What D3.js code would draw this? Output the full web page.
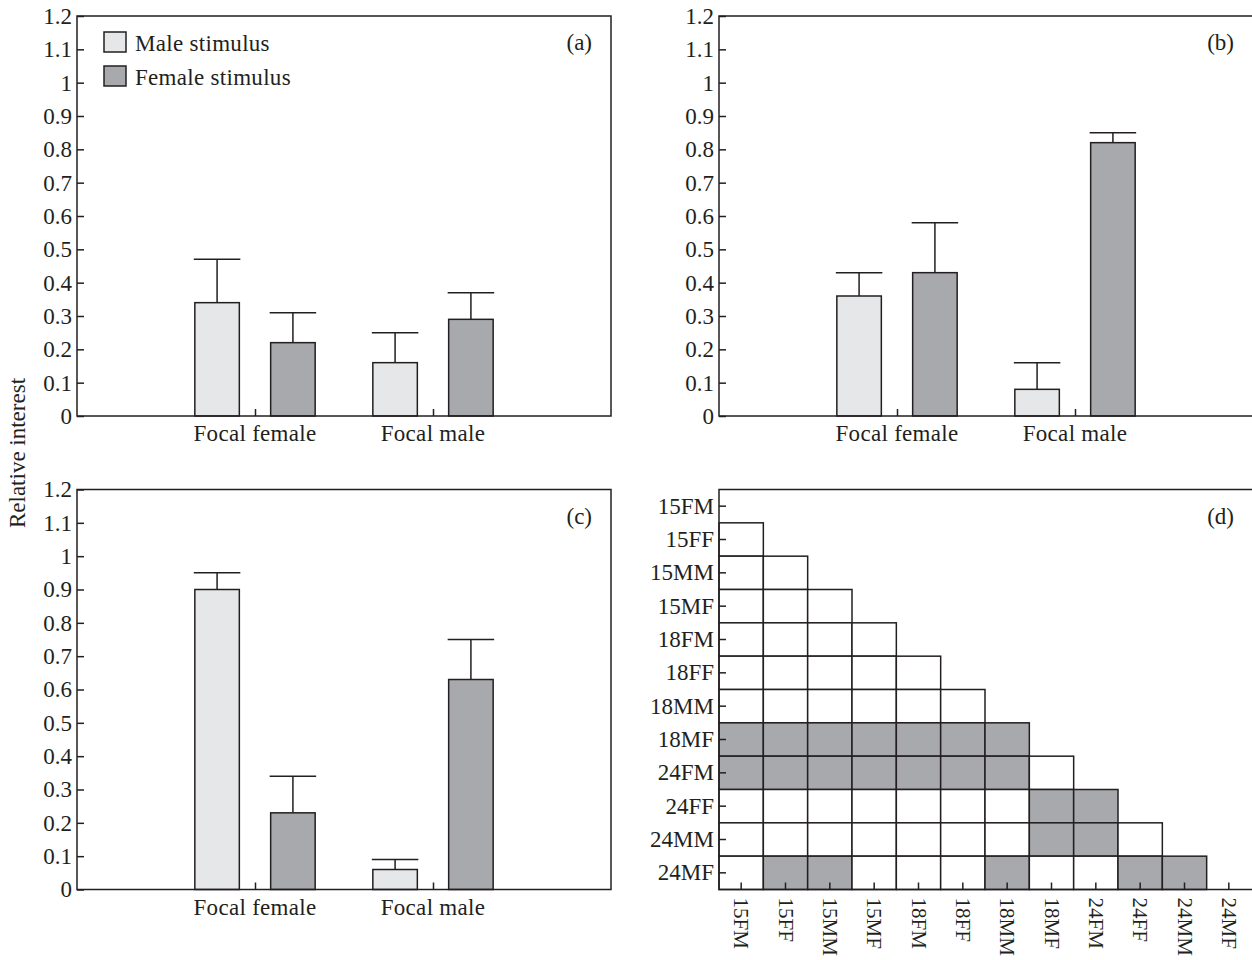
<!DOCTYPE html>
<html>
<head>
<meta charset="utf-8">
<title>Relative interest</title>
<script src="https://cdn.jsdelivr.net/npm/d3@7/dist/d3.min.js"></script>
<style type="text/css">
	body {
		margin: 0;
		background: white;
	}

	.chartText {
		font-family: 'Liberation Serif', 'Times New Roman', serif;
		font-size: 23px;
		fill: #231f20;
	}

	.tick line, .frame, .errLine, .cell {
		stroke: #231f20;
		stroke-width: 1.5px;
	}

	.frame {
		fill: none;
	}
</style>
</head>
<body>

<svg id='chart' width='1252' height='960'></svg>

<script>

// categories and series
var categories = ['Focal female', 'Focal male'];
var series = ['Male stimulus', 'Female stimulus'];
var seriesColors = ['#e6e7e8', '#a7a9ac'];

// panel (a)
var aMale = [0.34, 0.16],
	aFemale = [0.22, 0.29],
	aMaleErr = [0.13, 0.09],
	aFemaleErr = [0.09, 0.08];

// panel (b)
var bMale = [0.36, 0.08],
	bFemale = [0.43, 0.82],
	bMaleErr = [0.07, 0.08],
	bFemaleErr = [0.15, 0.03];

// panel (c)
var cMale = [0.90, 0.06],
	cFemale = [0.23, 0.63],
	cMaleErr = [0.05, 0.03],
	cFemaleErr = [0.11, 0.12];

var yTicks = d3.range(0, 13).map(function(i) {return i / 10;});

// panel (d): groups and the pairs that are shaded
var groups = ['15FM', '15FF', '15MM', '15MF', '18FM', '18FF', '18MM', '18MF', '24FM', '24FF', '24MM', '24MF'];
var shadedPairs = [
	['18MF', '15FM'], ['18MF', '15FF'], ['18MF', '15MM'], ['18MF', '15MF'], ['18MF', '18FM'], ['18MF', '18FF'], ['18MF', '18MM'],
	['24FM', '15FM'], ['24FM', '15FF'], ['24FM', '15MM'], ['24FM', '15MF'], ['24FM', '18FM'], ['24FM', '18FF'], ['24FM', '18MM'],
	['24FF', '18MF'], ['24FF', '24FM'],
	['24MM', '18MF'], ['24MM', '24FM'],
	['24MF', '15FF'], ['24MF', '15MM'], ['24MF', '18MM'], ['24MF', '24FF'], ['24MF', '24MM']
];

var svg = d3.select('#chart');

var panelW = 534,
	panelH = 400,
	barWidth = 0.25,
	barOffset = 0.213,
	tickLen = 7;

function drawBarPanel(left, top, label, male, female, maleErr, femaleErr) {
	var g = svg.append('g').attr('transform', 'translate(' + left + ',' + top + ')');

	var x = d3.scaleLinear().domain([0, 3]).range([0, panelW]);
	var y = d3.scaleLinear().domain([0, 1.2]).range([panelH, 0]);

	var yAxis = d3.axisLeft(y)
		.tickValues(yTicks)
		.tickSize(-tickLen)
		.tickPadding(5)
		.tickFormat(d3.format('~g'));

	g.append('g').call(yAxis)
		.call(function(a) {a.select('.domain').remove();})
		.selectAll('text')
		.attr('class', 'chartText')
		.attr('fill', null);

	var xAxis = d3.axisBottom(x)
		.tickValues([1, 2])
		.tickSize(-tickLen)
		.tickPadding(0)
		.tickFormat(function(d) {return '';});

	g.append('g').attr('transform', 'translate(0,' + panelH + ')').call(xAxis)
		.call(function(a) {a.select('.domain').remove();});

	g.selectAll('.catLabel')
		.data(categories)
		.enter()
		.append('text')
		.attr('class', 'chartText catLabel')
		.attr('x', function(d, i) {return x(i + 1);})
		.attr('y', panelH + 25)
		.attr('text-anchor', 'middle')
		.style('letter-spacing', '0.3px')
		.text(function(d) {return d;});

	var rows = [];
	categories.forEach(function(c, i) {
		rows.push({cat: i, s: 0, v: male[i], e: maleErr[i]});
		rows.push({cat: i, s: 1, v: female[i], e: femaleErr[i]});
	});

	function cx(d) {return x(d.cat + 1 + (d.s === 0 ? -barOffset : barOffset));}
	var halfW = (x(barWidth) - x(0)) / 2;

	g.selectAll('.errLine')
		.data(rows)
		.enter()
		.append('path')
		.attr('class', 'errLine')
		.attr('fill', 'none')
		.attr('d', function(d) {
			return 'M' + cx(d) + ',' + y(d.v) + 'V' + y(d.v + d.e) +
				'M' + (cx(d) - halfW - 1) + ',' + y(d.v + d.e) + 'H' + (cx(d) + halfW + 1);
		});

	g.selectAll('.bar')
		.data(rows)
		.enter()
		.append('rect')
		.attr('class', 'bar')
		.attr('x', function(d) {return cx(d) - halfW;})
		.attr('y', function(d) {return y(d.v);})
		.attr('width', halfW * 2)
		.attr('height', function(d) {return y(0) - y(d.v);})
		.attr('fill', function(d) {return seriesColors[d.s];})
		.attr('stroke', '#231f20')
		.attr('stroke-width', 1.5);

	g.append('rect')
		.attr('class', 'frame')
		.attr('width', panelW)
		.attr('height', panelH);

	g.append('text')
		.attr('class', 'chartText')
		.attr('x', panelW - 19)
		.attr('y', 34)
		.attr('text-anchor', 'end')
		.text(label);

	return g;
}

var gA = drawBarPanel(77, 16, '(a)', aMale, aFemale, aMaleErr, aFemaleErr);
drawBarPanel(719, 16, '(b)', bMale, bFemale, bMaleErr, bFemaleErr);
drawBarPanel(77, 489.5, '(c)', cMale, cFemale, cMaleErr, cFemaleErr);

// legend in panel (a)
var legend = gA.selectAll('.legendItem')
	.data(series)
	.enter()
	.append('g')
	.attr('class', 'legendItem')
	.attr('transform', function(d, i) {return 'translate(27,' + (16 + i * 34) + ')';});

legend.append('rect')
	.attr('width', 22)
	.attr('height', 20)
	.attr('fill', function(d, i) {return seriesColors[i];})
	.attr('stroke', '#231f20')
	.attr('stroke-width', 1.5);

legend.append('text')
	.attr('class', 'chartText')
	.attr('x', 31)
	.attr('y', 19)
	.style('letter-spacing', '0.3px')
	.text(function(d) {return d;});

// y axis title
svg.append('text')
	.attr('class', 'chartText')
	.attr('transform', 'translate(25,453) rotate(-90)')
	.attr('text-anchor', 'middle')
	.text('Relative interest');

// panel (d)
var gD = svg.append('g').attr('transform', 'translate(719,489.5)');

var col = d3.scaleBand().domain(groups).range([0, 532]);
var row = d3.scaleBand().domain(groups).range([0, panelH]);

var cells = [];
groups.forEach(function(r, ri) {
	groups.forEach(function(c, ci) {
		if (ci < ri) {
			var shaded = shadedPairs.some(function(p) {return p[0] === r && p[1] === c;});
			cells.push({r: r, c: c, shaded: shaded});
		}
	});
});

gD.selectAll('.cell')
	.data(cells)
	.enter()
	.append('rect')
	.attr('class', 'cell')
	.attr('x', function(d) {return col(d.c);})
	.attr('y', function(d) {return row(d.r);})
	.attr('width', col.bandwidth())
	.attr('height', row.bandwidth())
	.attr('fill', function(d) {return d.shaded ? seriesColors[1] : 'white';});

gD.append('g')
	.call(d3.axisLeft(row).tickSize(-tickLen).tickPadding(5))
	.call(function(a) {a.select('.domain').remove();})
	.selectAll('text')
	.attr('class', 'chartText')
	.attr('fill', null);

var bottomAxis = gD.append('g')
	.attr('transform', 'translate(0,' + panelH + ')')
	.call(d3.axisBottom(col).tickSize(-tickLen).tickPadding(0))
	.call(function(a) {a.select('.domain').remove();});

// rotated labels, a little smaller so the longest ones still fit above the page edge
bottomAxis.selectAll('text')
	.attr('class', 'chartText')
	.attr('fill', null)
	.attr('y', 0)
	.attr('dy', null)
	.attr('transform', 'translate(0,8) rotate(90)')
	.attr('text-anchor', 'start')
	.attr('dominant-baseline', 'central')
	.style('font-size', '21px');

gD.append('rect')
	.attr('class', 'frame')
	.attr('width', 534)
	.attr('height', panelH);

gD.append('text')
	.attr('class', 'chartText')
	.attr('x', 534 - 19)
	.attr('y', 34)
	.attr('text-anchor', 'end')
	.text('(d)');

</script>

</body>
</html>
